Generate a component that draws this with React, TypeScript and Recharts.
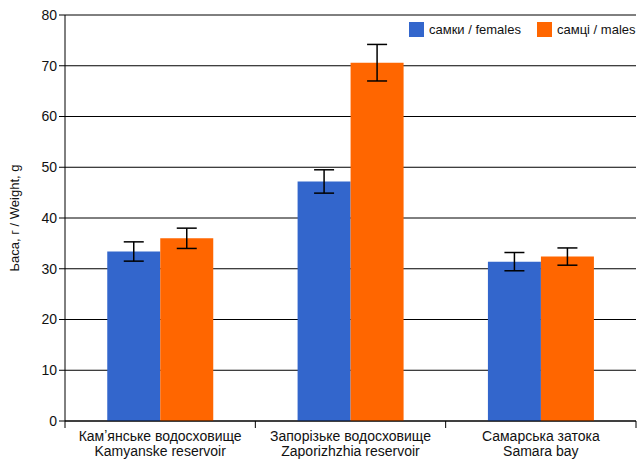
import { BarChart, Bar, XAxis, YAxis, CartesianGrid, ErrorBar } from 'recharts';

// Categories (two-line labels: Ukrainian / English)
const categoriesUa = ['Кам\u02BCянське водосховище', 'Запорізьке водосховище', 'Самарська затока'];
const categoriesEn = ['Kamyanske reservoir', 'Zaporizhzhia reservoir', 'Samara bay'];

// Mean weight, g
const females = [33.4, 47.2, 31.4];
const males = [36.0, 70.6, 32.4];

// Error (±)
const femalesErr = [1.9, 2.3, 1.8];
const malesErr = [2.0, 3.6, 1.7];

const yTicks = [0, 10, 20, 30, 40, 50, 60, 70, 80];

const FONT = '"Liberation Sans", Arial, sans-serif';
const BLUE = '#3366CC';
const ORANGE = '#FF6600';

const data = categoriesUa.map((ua, i) => ({
    name: ua,
    females: females[i],
    males: males[i],
    femalesErr: femalesErr[i],
    malesErr: malesErr[i],
}));

const W = 642;
const H = 459;
const M = { top: 15, right: 6, left: 0, bottom: 0 };
const Y_WIDTH = 65;
const BAND = (W - Y_WIDTH - M.right) / categoriesUa.length;

// category label + boundary tick marks (ticks sit between groups, not at centres)
function CategoryTick(props: any) {
    const { x, y, payload, index } = props;
    const left = x - BAND / 2;
    const right = x + BAND / 2;
    return (
        <g>
            <line x1={left} y1={y - 8} x2={left} y2={y - 1} stroke="#000" />
            {index === categoriesUa.length - 1 && (
                <line x1={right} y1={y - 8} x2={right} y2={y - 1} stroke="#000" />
            )}
            <text x={x} y={y + 12} textAnchor="middle" fontSize={14} fill="#111" fontFamily={FONT}>
                {payload.value}
            </text>
            <text x={x} y={y + 27} textAnchor="middle" fontSize={14} fill="#111" fontFamily={FONT}>
                {categoriesEn[index]}
            </text>
        </g>
    );
}

function LegendBox() {
    const item = (color: string, label: string, gap: number) => (
        <span style={{ display: 'inline-flex', alignItems: 'center', marginRight: gap }}>
            <span style={{ display: 'inline-block', width: 15, height: 15, background: color, marginRight: 5 }} />
            <span style={{ fontSize: 13, color: '#111', fontFamily: FONT }}>{label}</span>
        </span>
    );
    return (
        <div
            style={{
                position: 'absolute',
                left: 409,
                top: 22,
                display: 'flex',
                whiteSpace: 'nowrap',
                lineHeight: '15px',
            }}
        >
            {item(BLUE, 'самки / females', 16)}
            {item(ORANGE, 'самці / males', 0)}
        </div>
    );
}

export default function App() {
    return (
        <div style={{ position: 'absolute', left: 0, top: 0, width: W, height: H, background: '#fff' }}>
            <BarChart
                width={W}
                height={H}
                data={data}
                margin={M}
                barCategoryGap="22.2%"
                barGap={0}
            >
                <CartesianGrid vertical={false} stroke="#000" />
                <XAxis
                    dataKey="name"
                    height={38}
                    axisLine={{ stroke: '#000' }}
                    tickLine={false}
                    tick={<CategoryTick />}
                    interval={0}
                />
                <YAxis
                    width={Y_WIDTH}
                    domain={[0, 80]}
                    ticks={yTicks}
                    interval={0}
                    axisLine={{ stroke: '#000' }}
                    tickLine={{ stroke: '#000' }}
                    tickSize={6}
                    tick={{ fontSize: 14, fill: '#111', fontFamily: FONT }}
                    label={{
                        value: 'Ьаса, г / Weight, g',
                        angle: -90,
                        position: 'insideLeft',
                        offset: 14,
                        style: { fontSize: 13, fill: '#111', fontFamily: FONT, textAnchor: 'middle' },
                    }}
                />
                <Bar dataKey="females" fill={BLUE} isAnimationActive={false}>
                    <ErrorBar dataKey="femalesErr" width={10} stroke="#000" strokeWidth={1.5} direction="y" />
                </Bar>
                <Bar dataKey="males" fill={ORANGE} isAnimationActive={false}>
                    <ErrorBar dataKey="malesErr" width={10} stroke="#000" strokeWidth={1.5} direction="y" />
                </Bar>
            </BarChart>
            <LegendBox />
        </div>
    );
}
